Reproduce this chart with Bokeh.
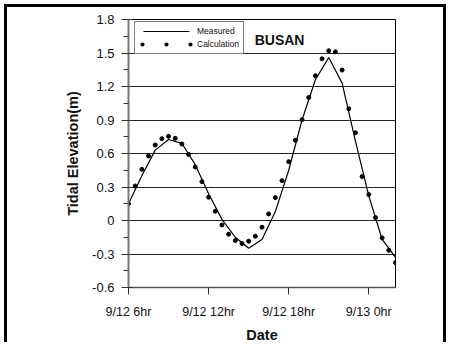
from bokeh.plotting import figure
from bokeh.models import FixedTicker, Legend, LegendItem, Label, Range1d
from bokeh.embed import file_html
from bokeh.resources import INLINE

# ---- data (hours counted from 9/12 0hr) ----
measured_hours = [6, 7, 8, 9, 10, 11, 12, 13, 14, 15, 16, 17, 18, 19, 20, 21, 22, 23, 24, 25, 26]
measured_elev = [0.15, 0.40, 0.63, 0.725, 0.69, 0.50, 0.24, 0.01, -0.15, -0.248, -0.17,
                 0.08, 0.45, 0.90, 1.26, 1.46, 1.23, 0.71, 0.22, -0.17, -0.33]

calc_hours = [6, 6.5, 7, 7.5, 8, 8.5, 9, 9.5, 10, 10.5, 11, 11.5, 12, 12.5, 13, 13.5,
              14, 14.5, 15, 15.5, 16, 16.5, 17, 17.5, 18, 18.5, 19, 19.5, 20, 20.5,
              21, 21.5, 22, 22.5, 23, 23.5, 24, 24.5, 25, 25.5, 26]
calc_elev = [0.151, 0.309, 0.458, 0.578, 0.676, 0.733, 0.754, 0.736, 0.685, 0.592,
             0.479, 0.348, 0.208, 0.083, -0.040, -0.123, -0.180, -0.207, -0.186, -0.141,
             -0.060, 0.059, 0.205, 0.357, 0.527, 0.718, 0.903, 1.102, 1.296, 1.448,
             1.520, 1.511, 1.347, 1.001, 0.786, 0.393, 0.232, 0.026, -0.156, -0.266,
             -0.377]

x_ticks = [6, 12, 18, 24]
x_tick_labels = ["9/12 6hr", "9/12 12hr", "9/12 18hr", "9/13 0hr"]
y_ticks = [-0.6, -0.3, 0.0, 0.3, 0.6, 0.9, 1.2, 1.5, 1.8]
y_tick_labels = ["-0.6", "-0.3", "0", "0.3", "0.6", "0.9", "1.2", "1.5", "1.8"]
y_minor_ticks = [-0.45, -0.15, 0.15, 0.45, 0.75, 1.05, 1.35, 1.65]

station = "BUSAN"
series_names = ["Measured", "Calculation"]
x_title = "Date"
y_title = "Tidal Elevation(m)"

FONT = "Liberation Sans"

p = figure(width=442, height=338, x_range=Range1d(6, 26), y_range=Range1d(-0.6, 1.8),
           output_backend="svg", toolbar_location=None, title=None,
           min_border_left=121, min_border_right=54, min_border_top=12, min_border_bottom=58)

# outer picture frame (open at the bottom, as in the cropped original)
p.styles = {"margin-left": "4px", "margin-top": "4px",
            "border-style": "solid", "border-color": "black",
            "border-width": "3px 3px 0px 3px"}

p.background_fill_color = "white"
p.border_fill_color = "white"
p.outline_line_color = "black"
p.outline_line_width = 1

# grid
p.xgrid.visible = False
p.ygrid.grid_line_color = "#222222"
p.ygrid.grid_line_width = 1

# x axis
p.xaxis.ticker = FixedTicker(ticks=x_ticks, minor_ticks=[])
p.xaxis.major_label_overrides = {t: l for t, l in zip(x_ticks, x_tick_labels)}
p.xaxis.axis_line_color = "#555555"
p.xaxis.axis_line_width = 1.5
p.xaxis.major_tick_line_color = "#333333"
p.xaxis.major_tick_out = 7
p.xaxis.major_tick_in = 0
p.xaxis.minor_tick_line_color = None
p.xaxis.major_label_standoff = 10
p.xaxis.major_label_text_font = FONT
p.xaxis.major_label_text_font_size = "12.5px"
p.xaxis.major_label_text_color = "#111111"
p.xaxis.axis_label = x_title
p.xaxis.axis_label_text_font = FONT
p.xaxis.axis_label_text_font_style = "bold"
p.xaxis.axis_label_text_font_size = "14.5px"
p.xaxis.axis_label_text_color = "#111111"
p.xaxis.axis_label_standoff = 5

# y axis
p.yaxis.ticker = FixedTicker(ticks=y_ticks, minor_ticks=y_minor_ticks)
p.yaxis.major_label_overrides = {t: l for t, l in zip(y_ticks, y_tick_labels)}
p.yaxis.axis_line_color = "#777777"
p.yaxis.axis_line_width = 2
p.yaxis.major_tick_line_color = "#333333"
p.yaxis.major_tick_out = 7
p.yaxis.major_tick_in = 4
p.yaxis.minor_tick_line_color = "#333333"
p.yaxis.minor_tick_out = 5
p.yaxis.minor_tick_in = 0
p.yaxis.major_label_standoff = 7
p.yaxis.major_label_text_font = FONT
p.yaxis.major_label_text_font_size = "13px"
p.yaxis.major_label_text_color = "#111111"
p.yaxis.axis_label = y_title
p.yaxis.axis_label_text_font = FONT
p.yaxis.axis_label_text_font_style = "bold"
p.yaxis.axis_label_text_font_size = "14.5px"
p.yaxis.axis_label_text_color = "#111111"
p.yaxis.axis_label_standoff = 8

# data
line_r = p.line(measured_hours, measured_elev, line_color="black", line_width=1.2)
dot_r = p.scatter(calc_hours, calc_elev, size=4.0, fill_color="black", line_color="black")

# hidden helper renderers that only supply the legend samples
legend_line = p.line(measured_hours, measured_elev, line_color="black", line_width=1.2,
                     line_dash="46 40", line_dash_offset=-4, visible=False)
legend_dots = p.line(calc_hours, calc_elev, line_color="black", line_width=4.2,
                     line_dash="0 24", line_dash_offset=-3, line_cap="round", visible=False)

legend = Legend(items=[LegendItem(label=series_names[0], renderers=[legend_line]),
                       LegendItem(label=series_names[1], renderers=[legend_dots])],
                location=(6, 233), orientation="vertical")
legend.padding = 4
legend.spacing = 3
legend.glyph_width = 54
legend.glyph_height = 10
legend.label_height = 10
legend.label_standoff = 4
legend.label_text_font = FONT
legend.label_text_font_size = "8.5px"
legend.label_text_color = "#111111"
legend.border_line_color = "black"
legend.border_line_width = 1
legend.background_fill_color = "white"
legend.background_fill_alpha = 1
legend.margin = 0
p.add_layout(legend)

p.add_layout(Label(x=15.45, y=1.62, text=station, text_font=FONT, text_font_style="bold",
                   text_font_size="14px", text_baseline="middle", text_color="#111111"))

open("out.html", "w").write(file_html(p, INLINE))
